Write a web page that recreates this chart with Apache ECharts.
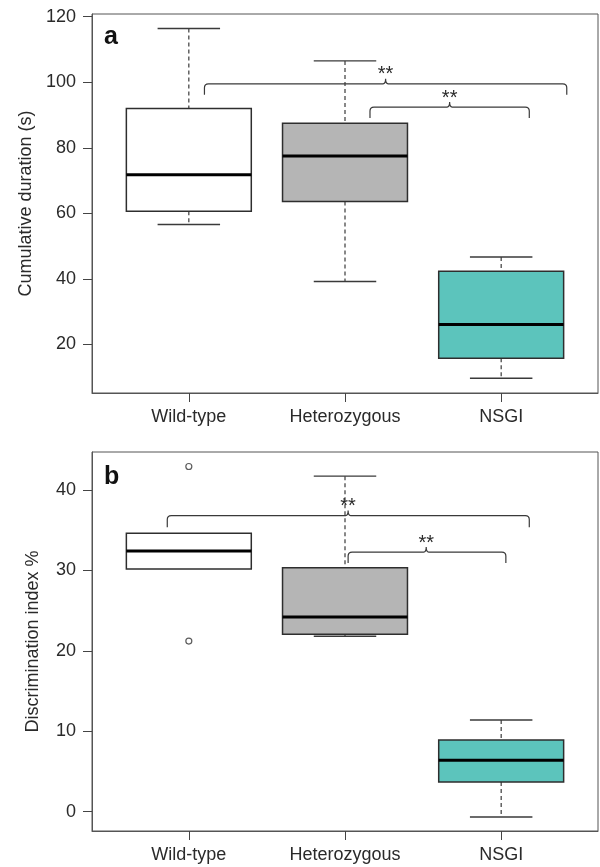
<!DOCTYPE html>
<html>
<head>
<meta charset="utf-8">
<script src="https://cdn.jsdelivr.net/npm/echarts@6/dist/echarts.min.js"></script>
<style>
html,body{margin:0;padding:0;background:#fff;}
#chart{width:600px;height:867px;}
</style>
</head>
<body>
<div id="chart"></div>
<script>
// ---- data ----
const categories = ['Wild-type', 'Heterozygous', 'NSGI'];
const categoryPositions = [1, 2, 3];

// Panel a: cumulative duration (s) — [x, lowWhisker, Q1, median, Q3, highWhisker]
const durationBoxes = [
  [1, 56.6, 60.6, 71.8, 92.0, 116.4],
  [2, 39.2, 63.6, 77.5, 87.5, 106.5],
  [3, 9.7, 15.8, 26.1, 42.3, 46.7]
];
const durationTicks = [20, 40, 60, 80, 100, 120];
// significance brackets: [xStart, xEnd, xMid, yLine, yEnd]
const durationBrackets = [
  [1.10, 3.42, 2.26, 99.5, 96.2],
  [2.16, 3.18, 2.67, 92.4, 89.1]
];

// Panel b: discrimination index %
const discBoxes = [
  [1, 30.15, 30.15, 32.4, 34.6, 34.6],
  [2, 21.8, 22.05, 24.2, 30.3, 41.7],
  [3, -0.66, 3.7, 6.4, 8.9, 11.4]
];
const discOutliers = [
  [1, 42.9],
  [1, 21.2]
];
const discTicks = [0, 10, 20, 30, 40];
const discBrackets = [
  [0.862, 3.18, 2.02, 36.8, 35.36],
  [2.02, 3.03, 2.52, 32.26, 30.9]
];

const boxFills = ['#ffffff', '#b5b5b5', '#5cc4bc'];
const significance = '**';

// ---- rendering ----
const FONT = 'Liberation Sans, Arial, Helvetica, sans-serif';
const TXT = '#2a2a2a';
const LINE = '#3a3a3a';

function renderBox(params, api) {
  const x = api.value(0);
  const lo = api.value(1), q1 = api.value(2), med = api.value(3), q3 = api.value(4), hi = api.value(5);
  const pL = api.coord([x - 0.4, q3]);
  const pR = api.coord([x + 0.4, q1]);
  const cL = api.coord([x - 0.2, hi]);
  const cR = api.coord([x + 0.2, lo]);
  const pc = api.coord([x, med]);
  const pHi = api.coord([x, hi]);
  const pLo = api.coord([x, lo]);
  const pQ3 = api.coord([x, q3]);
  const pQ1 = api.coord([x, q1]);
  const fill = boxFills[params.dataIndex];
  const children = [];
  const dashed = {stroke: LINE, lineWidth: 1.2, lineDash: [4, 3]};
  const solid = {stroke: LINE, lineWidth: 1.4};
  if (Math.abs(pHi[1] - pQ3[1]) > 0.5) {
    children.push({type: 'line', shape: {x1: pHi[0], y1: pHi[1], x2: pQ3[0], y2: pQ3[1]}, style: dashed});
    children.push({type: 'line', shape: {x1: cL[0], y1: cL[1], x2: cR[0], y2: cL[1]}, style: solid});
  }
  if (Math.abs(pLo[1] - pQ1[1]) > 0.5) {
    children.push({type: 'line', shape: {x1: pQ1[0], y1: pQ1[1], x2: pLo[0], y2: pLo[1]}, style: dashed});
    children.push({type: 'line', shape: {x1: cL[0], y1: cR[1], x2: cR[0], y2: cR[1]}, style: solid});
  }
  children.push({type: 'rect', shape: {x: pL[0], y: pL[1], width: pR[0] - pL[0], height: pR[1] - pL[1]},
    style: {fill: fill, stroke: '#2e2e2e', lineWidth: 1.5}});
  children.push({type: 'line', shape: {x1: pL[0], y1: pc[1], x2: pR[0], y2: pc[1]},
    style: {stroke: '#000', lineWidth: 3}});
  return {type: 'group', children: children};
}

function renderBracket(params, api) {
  const a = api.coord([api.value(0), api.value(3)]);
  const b = api.coord([api.value(1), api.value(3)]);
  const m = api.coord([api.value(2), api.value(3)]);
  const e = api.coord([api.value(0), api.value(4)]);
  const yL = a[1], yE = e[1];
  const r = 4, n = 2.5, h = 5;
  const d = [
    'M', a[0], yE, 'L', a[0], yL + r, 'Q', a[0], yL, a[0] + r, yL,
    'L', m[0] - n, yL, 'Q', m[0], yL, m[0], yL - h,
    'Q', m[0], yL, m[0] + n, yL,
    'L', b[0] - r, yL, 'Q', b[0], yL, b[0], yL + r, 'L', b[0], yE
  ].join(' ');
  return {
    type: 'group',
    children: [
      {type: 'path', shape: {pathData: d}, style: {fill: 'none', stroke: LINE, lineWidth: 1.2}},
      {type: 'text', x: m[0], y: yL - h - 4,
        style: {text: significance, fill: TXT, font: '20px ' + FONT, align: 'center', verticalAlign: 'middle'}}
    ]
  };
}

function xAxisDef(gridIndex) {
  return {
    type: 'value', gridIndex: gridIndex, min: 0.38, max: 3.62,
    axisLine: {show: true, onZero: false, lineStyle: {color: '#555', width: 1}},
    axisTick: {show: true, length: 9, customValues: categoryPositions, lineStyle: {color: '#444'}},
    axisLabel: {customValues: categoryPositions, margin: 15, color: TXT, fontSize: 18, fontFamily: FONT,
      formatter: v => categories[Math.round(v) - 1]},
    splitLine: {show: false}
  };
}
function yAxisDef(gridIndex, min, max, ticks, name, gap) {
  return {
    type: 'value', gridIndex: gridIndex, min: min, max: max,
    name: name, nameLocation: 'middle', nameGap: gap,
    nameTextStyle: {color: TXT, fontSize: 18, fontFamily: FONT},
    axisLine: {show: true, onZero: false, lineStyle: {color: '#555', width: 1}},
    axisTick: {show: true, length: 9, customValues: ticks, lineStyle: {color: '#444'}},
    axisLabel: {customValues: ticks, margin: 16, color: TXT, fontSize: 18, fontFamily: FONT},
    splitLine: {show: false}
  };
}

const chart = echarts.init(document.getElementById('chart'), null, {renderer: 'canvas'});
chart.setOption({
  backgroundColor: '#fff',
  animation: false,
  textStyle: {fontFamily: FONT},
  grid: [
    {left: 92, top: 14, width: 506, height: 379, show: true, borderColor: '#555', borderWidth: 1, backgroundColor: 'transparent'},
    {left: 92, top: 452, width: 506, height: 379, show: true, borderColor: '#555', borderWidth: 1, backgroundColor: 'transparent'}
  ],
  xAxis: [xAxisDef(0), xAxisDef(1)],
  yAxis: [
    yAxisDef(0, 5.2, 120.8, durationTicks, 'Cumulative duration (s)', 57),
    yAxisDef(1, -2.4, 44.7, discTicks, 'Discrimination index %', 50)
  ],
  graphic: [
    {type: 'text', left: 104, top: 25, style: {text: 'a', font: 'bold 25px ' + FONT, fill: '#111'}},
    {type: 'text', left: 104, top: 465, style: {text: 'b', font: 'bold 25px ' + FONT, fill: '#111'}}
  ],
  series: [
    {type: 'custom', name: 'duration', xAxisIndex: 0, yAxisIndex: 0, data: durationBoxes,
      renderItem: renderBox, encode: {x: 0, y: [1, 2, 3, 4, 5]}, clip: false},
    {type: 'custom', name: 'durationSig', xAxisIndex: 0, yAxisIndex: 0, data: durationBrackets,
      renderItem: renderBracket, encode: {x: [0, 1, 2], y: [3, 4]}, clip: false},
    {type: 'custom', name: 'disc', xAxisIndex: 1, yAxisIndex: 1, data: discBoxes,
      renderItem: renderBox, encode: {x: 0, y: [1, 2, 3, 4, 5]}, clip: false},
    {type: 'custom', name: 'discSig', xAxisIndex: 1, yAxisIndex: 1, data: discBrackets,
      renderItem: renderBracket, encode: {x: [0, 1, 2], y: [3, 4]}, clip: false},
    {type: 'scatter', name: 'outliers', xAxisIndex: 1, yAxisIndex: 1, data: discOutliers,
      symbol: 'circle', symbolSize: 6, itemStyle: {color: '#fff', borderColor: '#333', borderWidth: 1.2}}
  ]
});
</script>
</body>
</html>
